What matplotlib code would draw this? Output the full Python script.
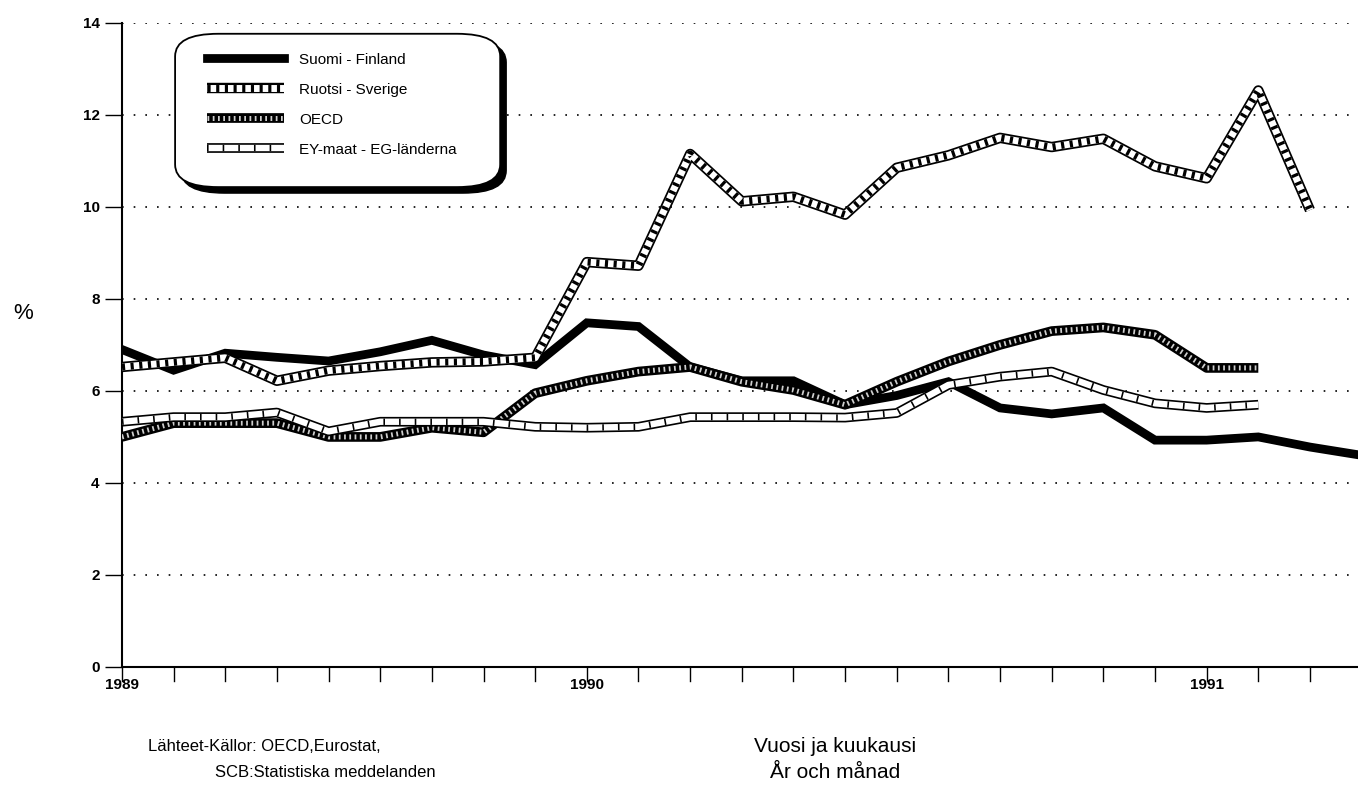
import matplotlib
matplotlib.use("Agg")
import matplotlib.pyplot as plt
from matplotlib.patches import FancyBboxPatch
import matplotlib.transforms as mtransforms

plt.rcParams['font.family'] = ['Liberation Sans', 'DejaVu Sans']

# kuukaudet, huhtikuu 1989 = 0
months = list(range(25))
tick_labels = {0: "1989", 9: "1990", 21: "1991"}

suomi = [6.9, 6.45, 6.82, 6.73, 6.65, 6.85, 7.1, 6.78, 6.57, 7.48, 7.4, 6.52,
         6.22, 6.22, 5.7, 5.9, 6.2, 5.63, 5.5, 5.63, 4.93, 4.93, 5.0, 4.78, 4.6]
ruotsi = [6.52, 6.62, 6.72, 6.22, 6.44, 6.54, 6.62, 6.64, 6.72, 8.8, 8.72, 11.15,
          10.12, 10.22, 9.83, 10.85, 11.12, 11.5, 11.3, 11.48, 10.88, 10.62, 12.53, 9.93]
oecd = [5.0, 5.3, 5.3, 5.3, 5.0, 5.0, 5.2, 5.1, 5.95, 6.22, 6.42, 6.52,
        6.2, 6.02, 5.7, 6.2, 6.64, 7.0, 7.3, 7.38, 7.22, 6.5, 6.5]
ey = [5.33, 5.43, 5.43, 5.53, 5.12, 5.33, 5.33, 5.33, 5.22, 5.2, 5.22, 5.43,
      5.43, 5.43, 5.42, 5.52, 6.13, 6.31, 6.42, 6.02, 5.73, 5.63, 5.7]

fig = plt.figure(figsize=(13.58, 7.87), dpi=100)
ax = fig.add_axes([0.0898, 0.1525, 0.9102, 0.8185])

# Suomi: musta viiva
h_fi = ax.plot(months[:len(suomi)], suomi, color="black", lw=6.3, solid_joinstyle="miter", zorder=2)

# OECD: musta reuna, pisteet
x = months[:len(oecd)]
o1, = ax.plot(x, oecd, color="black", lw=7, solid_capstyle="butt", zorder=3)
o2, = ax.plot(x, oecd, color="#cfcfcf", lw=3.6, dashes=(0.35, 0.7), solid_capstyle="butt",
              dash_capstyle="butt", zorder=3)

# EY
x = months[:len(ey)]
e1, = ax.plot(x, ey, color="black", lw=7, solid_capstyle="butt", zorder=4)
e2, = ax.plot(x, ey, color="white", lw=4.6, solid_capstyle="butt", zorder=4)
e3, = ax.plot(x, ey, color="black", lw=4.6, dashes=(0.25, 2.2), dash_capstyle="butt", zorder=4)

# Ruotsi: viivoitus
x = months[:len(ruotsi)]
r1, = ax.plot(x, ruotsi, color="black", lw=7.5, solid_capstyle="butt", zorder=5)
r2, = ax.plot(x, ruotsi, color="white", lw=5, solid_capstyle="butt", zorder=5)
r3, = ax.plot(x, ruotsi, color="black", lw=5, dashes=(0.45, 0.8), dash_capstyle="butt", zorder=5)

ax.set_xlim(0, 23.93)
ax.set_ylim(0, 14)
ax.set_yticks(range(0, 15, 2))
ax.set_xticks(months[:24])
ax.set_xticklabels([tick_labels.get(m, "") for m in months[:24]])
ax.tick_params(axis="y", direction="out", length=12, width=1, labelsize=11, pad=4)
ax.tick_params(axis="x", direction="in", length=0, labelsize=11, pad=8)
for lab in ax.get_xticklabels() + ax.get_yticklabels():
    lab.set_fontweight("bold")
for m in months[:24]:
    ax.plot([m, m], [0, -0.3], color="black", lw=1, clip_on=False, zorder=6)

for s in ["top", "right"]:
    ax.spines[s].set_visible(False)
ax.spines["left"].set_linewidth(1.5)
ax.spines["bottom"].set_linewidth(1.5)

for v in range(2, 15, 2):
    ax.axhline(v, color="black", lw=1.2, dashes=(1, 6), zorder=1)

ax.set_ylabel("%", rotation=0, fontsize=16, va="center")
ax.yaxis.set_label_coords(-0.08, 0.548)

# selitelaatikko varjolla
px = mtransforms.ScaledTranslation(6 / 100, -6 / 100, fig.dpi_scale_trans)
box_kw = dict(boxstyle="round,pad=0,rounding_size=0.035", clip_on=False)
shadow = FancyBboxPatch((0.043, 0.745), 0.263, 0.238, facecolor="black", edgecolor="black",
                        zorder=7, transform=ax.transAxes + px, **box_kw)
ax.add_patch(shadow)
box = FancyBboxPatch((0.043, 0.745), 0.263, 0.238, facecolor="white", edgecolor="black",
                     lw=1.3, zorder=8, transform=ax.transAxes, **box_kw)
ax.add_patch(box)

leg = ax.legend([tuple(h_fi), (r1, r2, r3), (o1, o2), (e1, e2, e3)],
                ["Suomi - Finland", "Ruotsi - Sverige", "OECD", "EY-maat - EG-länderna"],
                loc="upper left", bbox_to_anchor=(0.058, 0.975), frameon=False,
                fontsize=11, handlelength=5.0, labelspacing=1.05, handletextpad=1.0)
leg.set_zorder(9)

fig.text(0.109, 0.052, "Lähteet-Källor: OECD,Eurostat,", fontsize=12, va="center")
fig.text(0.158, 0.018, "SCB:Statistiska meddelanden", fontsize=12, va="center")
fig.text(0.615, 0.052, "Vuosi ja kuukausi", fontsize=15, ha="center", va="center")
fig.text(0.615, 0.018, "År och månad", fontsize=15, ha="center", va="center")

fig.savefig("out.png", dpi=100)
